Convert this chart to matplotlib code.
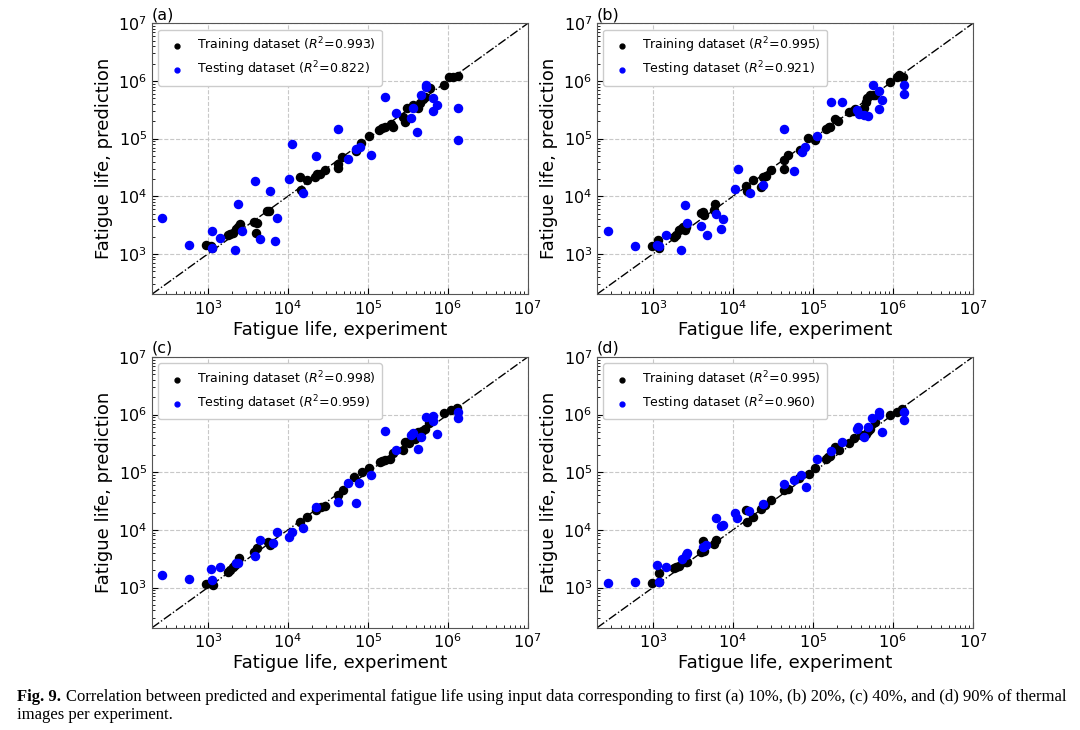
import numpy as np
import matplotlib.pyplot as plt

# values, as log10 of fatigue life
a_train_x = [2.98, 3.04, 3.05, 3.25, 3.28, 3.32, 3.35, 3.38, 3.40, 3.58, 3.61, 3.60, 3.74, 3.77,
             4.15, 4.17, 4.24, 4.34, 4.37, 4.40, 4.46, 4.63, 4.63, 4.68, 4.85, 4.92, 5.02,
             5.14, 5.18, 5.21, 5.29, 5.31, 5.44, 5.46, 5.49, 5.57, 5.63, 5.65, 5.69, 5.72, 5.78,
             5.95, 6.02, 6.07, 6.13]
a_train_y = [3.16, 3.14, 3.10, 3.33, 3.34, 3.37, 3.43, 3.47, 3.52, 3.56, 3.54, 3.37, 3.75, 3.75,
             4.33, 4.11, 4.28, 4.33, 4.38, 4.39, 4.46, 4.49, 4.56, 4.68, 4.79, 4.92, 5.04,
             5.15, 5.18, 5.20, 5.25, 5.20, 5.38, 5.28, 5.53, 5.59, 5.53, 5.62, 5.68, 5.72, 5.87,
             5.93, 6.07, 6.07, 6.09]
a_test_x = [2.43, 2.76, 3.05, 3.05, 3.15, 3.34, 3.38, 3.43, 3.59, 3.65, 3.78, 3.84, 3.86, 4.01,
            4.05, 4.19, 4.35, 4.63, 4.75, 4.85, 4.90, 5.04, 5.21, 5.35, 5.54, 5.57, 5.62, 5.67,
            5.73, 5.73, 5.81, 5.81, 5.87, 6.13, 6.13]
a_test_y = [3.63, 3.16, 3.40, 3.10, 3.27, 3.06, 3.86, 3.40, 4.26, 3.25, 4.09, 3.22, 3.62, 4.30,
            4.90, 4.05, 4.69, 5.17, 4.65, 4.82, 4.85, 4.71, 5.72, 5.45, 5.36, 5.54, 5.11, 5.76,
            5.93, 5.90, 5.70, 5.48, 5.58, 5.53, 4.98]

b_train_x = [2.99, 3.06, 3.07, 3.26, 3.29, 3.33, 3.35, 3.38, 3.40, 3.41, 3.60, 3.62, 3.64, 3.76, 3.78,
             4.16, 4.18, 4.25, 4.35, 4.37, 4.41, 4.48, 4.64, 4.64, 4.69, 4.84, 4.94, 5.03,
             5.16, 5.20, 5.22, 5.28, 5.32, 5.45, 5.50, 5.53, 5.64, 5.66, 5.68, 5.71, 5.75, 5.78,
             5.97, 6.05, 6.08, 6.13]
b_train_y = [3.14, 3.24, 3.10, 3.29, 3.33, 3.41, 3.44, 3.47, 3.41, 3.47, 3.71, 3.72, 3.67, 3.76, 3.87,
             4.17, 4.10, 4.28, 4.16, 4.33, 4.36, 4.45, 4.48, 4.63, 4.71, 4.81, 5.01, 4.98,
             5.17, 5.20, 5.20, 5.34, 5.30, 5.47, 5.48, 5.51, 5.53, 5.64, 5.70, 5.76, 5.76, 5.76,
             5.98, 6.07, 6.10, 6.07]
b_test_x = [2.44, 2.77, 3.05, 3.08, 3.16, 3.35, 3.40, 3.43, 3.60, 3.67, 3.79, 3.85, 3.88, 4.03,
            4.06, 4.21, 4.37, 4.64, 4.76, 4.86, 4.90, 5.05, 5.23, 5.37, 5.55, 5.58, 5.64, 5.69,
            5.75, 5.83, 5.83, 5.87, 6.14, 6.14]
b_test_y = [3.39, 3.13, 3.16, 3.13, 3.33, 3.06, 3.84, 3.54, 3.49, 3.32, 3.70, 3.43, 3.61, 4.13,
            4.47, 4.06, 4.19, 5.17, 4.43, 4.76, 4.85, 5.05, 5.63, 5.64, 5.50, 5.43, 5.41, 5.39,
            5.93, 5.51, 5.83, 5.67, 5.93, 5.78]

c_train_x = [2.98, 3.04, 3.06, 3.25, 3.28, 3.31, 3.34, 3.39, 3.58, 3.61, 3.75, 3.78,
             4.15, 4.24, 4.35, 4.42, 4.47, 4.63, 4.69, 4.83, 4.93, 5.02, 5.15, 5.18, 5.21,
             5.28, 5.32, 5.44, 5.46, 5.49, 5.51, 5.59, 5.63, 5.68, 5.72, 5.77, 5.95, 6.04, 6.11]
c_train_y = [3.06, 3.08, 3.05, 3.27, 3.31, 3.35, 3.39, 3.52, 3.62, 3.68, 3.79, 3.74,
             4.13, 4.23, 4.35, 4.40, 4.42, 4.61, 4.69, 4.91, 5.00, 5.08, 5.18, 5.20, 5.21,
             5.23, 5.33, 5.39, 5.52, 5.52, 5.50, 5.58, 5.70, 5.71, 5.75, 5.85, 6.02, 6.08, 6.12]
c_test_x = [2.43, 2.76, 3.04, 3.05, 3.15, 3.35, 3.38, 3.59, 3.65, 3.81, 3.87, 4.02, 4.05, 4.19,
            4.35, 4.63, 4.75, 4.85, 4.89, 5.04, 5.22, 5.35, 5.54, 5.56, 5.63, 5.67, 5.73, 5.81,
            5.82, 5.87, 6.13, 6.13]
c_test_y = [3.21, 3.14, 3.32, 3.13, 3.35, 3.42, 3.42, 3.54, 3.83, 3.77, 3.96, 3.87, 3.96, 4.04,
            4.39, 4.49, 4.81, 4.47, 4.81, 4.95, 5.71, 5.39, 5.65, 5.68, 5.40, 5.62, 5.95, 5.97,
            5.89, 5.66, 6.04, 5.94]

d_train_x = [2.99, 3.07, 3.08, 3.26, 3.29, 3.33, 3.38, 3.41, 3.43, 3.60, 3.62, 3.64, 3.76, 3.79,
             4.18, 4.25, 4.35, 4.40, 4.47, 4.16, 4.64, 4.69, 4.83, 4.95, 5.03, 5.16, 5.19, 5.22,
             5.28, 5.33, 5.45, 5.51, 5.60, 5.66, 5.69, 5.72, 5.78, 5.97, 6.05, 6.12]
d_train_y = [3.08, 3.25, 3.10, 3.33, 3.36, 3.37, 3.45, 3.45, 3.45, 3.61, 3.80, 3.64, 3.75, 3.83,
             4.14, 4.23, 4.36, 4.43, 4.52, 4.34, 4.69, 4.71, 4.90, 4.97, 5.08, 5.23, 5.27, 5.29,
             5.44, 5.39, 5.50, 5.59, 5.65, 5.66, 5.71, 5.75, 5.87, 6.00, 6.05, 6.10]
d_test_x = [2.44, 2.77, 3.05, 3.08, 3.16, 3.36, 3.41, 3.43, 3.62, 3.66, 3.79, 3.85, 3.88, 4.03,
            4.05, 4.20, 4.37, 4.64, 4.76, 4.85, 4.91, 5.05, 5.23, 5.37, 5.55, 5.56, 5.64, 5.69,
            5.74, 5.83, 5.83, 5.87, 6.14, 6.14]
d_test_y = [3.08, 3.10, 3.39, 3.10, 3.36, 3.49, 3.57, 3.60, 3.71, 3.73, 4.20, 4.06, 4.08, 4.29,
            4.20, 4.32, 4.45, 4.80, 4.86, 4.95, 4.75, 5.23, 5.37, 5.53, 5.75, 5.79, 5.62, 5.79,
            5.94, 6.04, 6.00, 5.69, 6.04, 5.90]

panel_labels = ['(a)', '(b)', '(c)', '(d)']
r2_train = ['0.993', '0.995', '0.998', '0.995']
r2_test = ['0.822', '0.921', '0.959', '0.960']
panels = [(a_train_x, a_train_y, a_test_x, a_test_y),
          (b_train_x, b_train_y, b_test_x, b_test_y),
          (c_train_x, c_train_y, c_test_x, c_test_y),
          (d_train_x, d_train_y, d_test_x, d_test_y)]

lims = (200, 1e7)

fig = plt.figure(figsize=(10.8, 7.3), dpi=100)
boxes = [(0.1407, 0.597), (0.5528, 0.597), (0.1407, 0.140), (0.5528, 0.140)]

for i, (tx, ty, sx, sy) in enumerate(panels):
    ax = fig.add_axes([boxes[i][0], boxes[i][1], 0.348, 0.371])
    ax.set_xscale('log')
    ax.set_yscale('log')
    ax.plot(lims, lims, color='black', ls='-.', lw=1, zorder=1)
    ax.scatter(10 ** np.array(tx), 10 ** np.array(ty), s=34, color='black', zorder=3,
               label='Training dataset ($R^2$=' + r2_train[i] + ')')
    ax.scatter(10 ** np.array(sx), 10 ** np.array(sy), s=34, color='blue', zorder=3,
               label='Testing dataset ($R^2$=' + r2_test[i] + ')')
    ax.set_xlim(lims)
    ax.set_ylim(lims)
    ax.set_xticks([1e3, 1e4, 1e5, 1e6, 1e7])
    ax.set_yticks([1e3, 1e4, 1e5, 1e6, 1e7])
    ax.grid(True, which='major', ls='--', color='#c8c8c8', lw=0.8)
    ax.tick_params(which='both', direction='in', labelsize=11.5)
    ax.tick_params(which='major', length=4)
    ax.tick_params(which='minor', length=2)
    for sp in ax.spines.values():
        sp.set_color('#555555')
    ax.set_xlabel('Fatigue life, experiment', fontsize=13, labelpad=2)
    ax.set_ylabel('Fatigue life, prediction', fontsize=13, labelpad=4)
    ax.legend(loc='upper left', fontsize=9, scatterpoints=1, markerscale=0.6,
              handletextpad=0.6, labelspacing=0.35, borderpad=0.5,
              framealpha=1, edgecolor='#cccccc')
    ax.text(0.0, 1.005, panel_labels[i], transform=ax.transAxes, fontsize=11.5,
            ha='left', va='bottom')

# caption
fig.canvas.draw()
r = fig.canvas.get_renderer()
bold = fig.text(0.016, 0.040, 'Fig. 9.', family='Liberation Serif', weight='bold',
                fontsize=11.95, va='baseline')
bb = bold.get_window_extent(renderer=r)
fig.text((bb.x1 + 5) / fig.bbox.width, 0.040,
         'Correlation between predicted and experimental fatigue life using input data '
         'corresponding to first (a) 10%, (b) 20%, (c) 40%, and (d) 90% of thermal',
         family='Liberation Serif', fontsize=11.95, va='baseline')
fig.text(0.016, 0.015, 'images per experiment.', family='Liberation Serif',
         fontsize=11.95, va='baseline')

fig.savefig('out.png', dpi=100)
